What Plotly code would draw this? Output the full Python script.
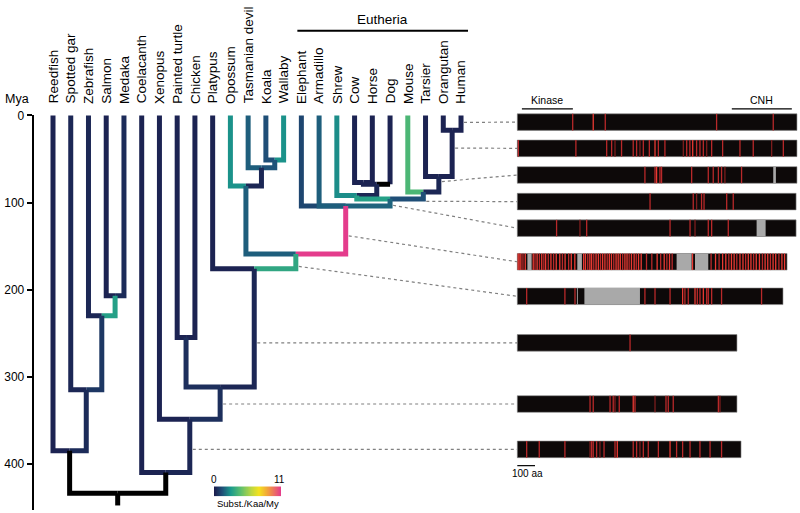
import plotly.graph_objects as go
from plotly.colors import sample_colorscale

# ------------------------------------------------------------------ data
leaves = ["Reedfish", "Spotted gar", "Zebrafish", "Salmon", "Medaka", "Coelacanth",
          "Xenopus", "Painted turtle", "Chicken", "Platypus", "Opossum",
          "Tasmanian devil", "Koala", "Wallaby", "Elephant", "Armadillo", "Shrew",
          "Cow", "Horse", "Dog", "Mouse", "Tarsier", "Orangutan", "Human"]

clade_children = {
    "SM": ["Salmon", "Medaka"],
    "ZSM": ["Zebrafish", "SM"],
    "GZSM": ["Spotted gar", "ZSM"],
    "Actinopterygii": ["Reedfish", "GZSM"],
    "TC": ["Painted turtle", "Chicken"],
    "KW": ["Koala", "Wallaby"],
    "TKW": ["Tasmanian devil", "KW"],
    "Marsupialia": ["Opossum", "TKW"],
    "OH": ["Orangutan", "Human"],
    "Primates": ["Tarsier", "OH"],
    "Euarchontoglires": ["Mouse", "Primates"],
    "CH": ["Cow", "Horse"],
    "CHD": ["CH", "Dog"],
    "Laurasiatheria": ["Shrew", "CHD"],
    "Boreoeutheria": ["Laurasiatheria", "Euarchontoglires"],
    "Eutheria": ["Elephant", "Armadillo", "Boreoeutheria"],
    "Theria": ["Marsupialia", "Eutheria"],
    "Mammalia": ["Platypus", "Theria"],
    "Amniota": ["TC", "Mammalia"],
    "Tetrapoda": ["Xenopus", "Amniota"],
    "Sarcopterygii": ["Coelacanth", "Tetrapoda"],
    "Root": ["Actinopterygii", "Sarcopterygii"],
}

node_age_mya = {
    "SM": 207, "ZSM": 230, "GZSM": 315, "Actinopterygii": 385,
    "TC": 255, "KW": 51, "TKW": 60, "Marsupialia": 81,
    "OH": 17, "Primates": 70, "Euarchontoglires": 88,
    "CH": 77, "CHD": 79, "Laurasiatheria": 92, "Boreoeutheria": 96,
    "Eutheria": 104, "Theria": 159, "Mammalia": 176, "Amniota": 312,
    "Tetrapoda": 349, "Sarcopterygii": 410, "Root": 434,
}
root_stub_mya = 14

# substitutions per Kaa per My on the branch leading to each node (None = not estimated)
branch_rate = {
    "Reedfish": 0.2, "Spotted gar": 0.3, "Zebrafish": 0.3, "Salmon": 0.2, "Medaka": 0.4,
    "SM": 3.0, "ZSM": 0.7, "GZSM": 0.4, "Actinopterygii": None,
    "Coelacanth": 0.2, "Xenopus": 0.2, "Painted turtle": 0.2, "Chicken": 0.2,
    "TC": 0.5, "Amniota": 0.5, "Platypus": 0.2, "Mammalia": 0.3, "Theria": 3.3,
    "Marsupialia": 1.6, "Opossum": 2.6, "TKW": 0.3, "Tasmanian devil": 1.6,
    "KW": 1.4, "Koala": 1.3, "Wallaby": 2.6, "Eutheria": 11.0,
    "Elephant": 1.1, "Armadillo": 1.6, "Boreoeutheria": 1.7, "Laurasiatheria": 3.0,
    "Shrew": 2.5, "CHD": 0.3, "CH": 0.2, "Cow": 0.2, "Horse": 0.2, "Dog": 0.2,
    "Mouse": 4.0, "Euarchontoglires": 1.3, "Primates": 0.3, "Tarsier": 0.2,
    "OH": 0.2, "Orangutan": 0.2, "Human": 0.2, "Tetrapoda": 0.3,
    "Sarcopterygii": None, "Root": None,
}
horizontal_rate_override = {"Dog": None}
rate_max = 11

clade_labels = [("Eutheria", "Elephant", "Human")]

# ancestral sequences along the human lineage (branch -> sequence row)
row_branches = ["Human", "OH", "Primates", "Euarchontoglires", "Boreoeutheria",
                "Eutheria", "Theria", "Mammalia", "Amniota", "Tetrapoda"]
row_length_aa = [1580, 1580, 1580, 1575, 1575, 1524, 1501, 1241, 1241, 1264]
# substitution sites: (position aa, intensity 1..3)
row_sites = [
    [(313, 2), (429, 3), (497, 2), (1126, 2), (1446, 2)],
    [(6, 2), (331, 2), (505, 2), (533, 2), (552, 1), (589, 2), (655, 2), (674, 2), (693, 1),
     (712, 2), (746, 2), (778, 3), (797, 2), (834, 2), (938, 1), (957, 2), (975, 2), (991, 3),
     (1013, 2), (1032, 2), (1051, 2), (1070, 1), (1098, 2), (1160, 2), (1258, 2), (1333, 2),
     (1437, 1), (1503, 2)],
    [(721, 2), (778, 2), (787, 3), (806, 2), (815, 2), (985, 2), (1079, 2), (1107, 2),
     (1136, 2), (1154, 2), (1173, 1), (1267, 2)],
    [(750, 2), (994, 2), (1013, 1), (1041, 2), (1055, 2), (1183, 2), (1220, 2)],
    [(222, 2), (354, 1), (392, 2), (863, 2), (976, 2), (1004, 1), (1079, 2), (1098, 2),
     (1192, 2)],
    [(5, 3), (12, 2), (20, 3), (32, 2), (45, 3), (90, 3), (100, 2), (112, 3), (125, 2),
     (138, 3), (150, 2), (160, 3), (175, 2), (190, 3), (205, 2), (220, 3), (240, 3),
     (255, 2), (270, 3), (290, 2), (305, 3), (325, 3), (375, 3), (385, 3), (398, 2),
     (410, 3), (420, 3), (432, 2), (445, 3), (458, 3), (470, 2), (482, 3), (495, 3),
     (508, 2), (520, 3), (532, 3), (545, 2), (558, 3), (570, 3), (582, 3), (595, 2),
     (608, 3), (620, 3), (632, 2), (645, 3), (660, 3), (672, 2), (685, 3), (700, 3),
     (730, 2), (760, 2), (790, 3), (810, 2), (830, 3), (845, 2), (860, 3), (875, 2),
     (990, 3), (1095, 2), (1120, 3), (1140, 2), (1160, 3), (1178, 3), (1195, 2),
     (1210, 3), (1225, 3), (1240, 2), (1258, 3), (1275, 3), (1290, 2), (1305, 3),
     (1320, 3), (1335, 2), (1350, 3), (1368, 3), (1385, 2), (1400, 3), (1415, 3),
     (1430, 2), (1445, 3), (1460, 3), (1478, 2), (1495, 3), (1510, 3)],
    [(53, 2), (269, 2), (326, 2), (721, 2), (778, 2), (863, 2), (934, 3), (947, 2),
     (966, 2), (1004, 3), (1017, 2), (1032, 2), (1051, 3), (1070, 2), (1079, 2),
     (1098, 2), (1154, 2), (1380, 2)],
    [(637, 2)],
    [(411, 2), (429, 2), (524, 2), (542, 2), (552, 1), (576, 2), (655, 3), (665, 2),
     (778, 1), (840, 2), (853, 2), (881, 2), (1136, 2), (1145, 1)],
    [(53, 2), (124, 2), (269, 2), (411, 1), (420, 2), (429, 2), (448, 2), (467, 1),
     (490, 2), (552, 2), (565, 3), (655, 2), (674, 2), (693, 1), (712, 2), (740, 2),
     (797, 2), (863, 3), (900, 2), (934, 2), (976, 2), (1032, 2), (1089, 2), (1154, 2)],
]
# alignment gaps: (start aa, end aa)
row_gaps = [
    [], [], [(1446, 1461)], [], [(1352, 1403)],
    [(57, 81), (339, 365), (900, 985), (1004, 1079)],
    [(337, 342), (379, 693)],
    [], [], [],
]

protein_domains = [("Kinase", 26, 314), ("CNH", 1212, 1551)]
scale_bar_aa = 100

# ------------------------------------------------------------------ layout constants
W, H = 800, 513
TREE_X0_PX, LEAF_STEP_PX = 53.0, 17.74
Y0_PX, PX_PER_MY = 110.0, 0.8825
BAR_X0_PX, PX_PER_AA = 517.3, 0.177
LW = 5
FONT = "Liberation Sans, Arial, Helvetica, sans-serif"

row_center_px = [116.7, 143.3, 170.3, 197.3, 224.2, 258.3, 293.3, 340.5, 402.5, 448.5]
row_half_px = 8.4
connector_start_px_y = [117, 143, 177, 197, 201, 232, 263, 340.5, 402.5, 448.5]

RATE_SCALE = [[0.0, "#1b1b4b"], [0.12, "#1f4f78"], [0.25, "#1b9a8c"], [0.4, "#5cbf6e"],
              [0.55, "#bad643"], [0.67, "#f4e21e"], [0.8, "#f2a33a"], [1.0, "#e43c8c"]]
RED = {1: "#7c1d1d", 2: "#b8292a", 3: "#ea3a33"}


def px_to_tree_x(px):
    return (px - TREE_X0_PX) / LEAF_STEP_PX


def px_to_age(py):
    return (py - Y0_PX) / PX_PER_MY


def px_to_aa(px):
    return (px - BAR_X0_PX) / PX_PER_AA


def aa_to_tree_x(aa):
    return px_to_tree_x(BAR_X0_PX + aa * PX_PER_AA)


def rate_color(r):
    if r is None:
        return "#000000"
    return sample_colorscale(RATE_SCALE, [min(max(r / rate_max, 0), 1)])[0]


# ------------------------------------------------------------------ tree geometry
parent_of = {}
for p, ch in clade_children.items():
    for c in ch:
        parent_of[c] = p

node_x = {name: i for i, name in enumerate(leaves)}
node_age = {name: 0.0 for name in leaves}


def place(n):
    if n in node_x:
        return node_x[n]
    xs = [place(c) for c in clade_children[n]]
    node_x[n] = (min(xs) + max(xs)) / 2
    node_age[n] = node_age_mya[n]
    return node_x[n]


place("Root")

fig = go.Figure()

for n, p in parent_of.items():
    xc, yc = node_x[n], node_age[n]
    xp, yp = node_x[p], node_age[p]
    col_v = rate_color(branch_rate[n])
    col_h = rate_color(horizontal_rate_override[n]) if n in horizontal_rate_override else col_v
    if col_h == col_v:
        fig.add_trace(go.Scatter(x=[xc, xc, xp], y=[yc, yp, yp], mode="lines",
                                 line=dict(color=col_v, width=LW), hoverinfo="skip",
                                 showlegend=False))
    else:
        fig.add_trace(go.Scatter(x=[xc, xc], y=[yc, yp], mode="lines",
                                 line=dict(color=col_v, width=LW), hoverinfo="skip",
                                 showlegend=False))
        fig.add_trace(go.Scatter(x=[xc, xp], y=[yp, yp], mode="lines",
                                 line=dict(color=col_h, width=LW), hoverinfo="skip",
                                 showlegend=False))

# root stub
fig.add_trace(go.Scatter(x=[node_x["Root"], node_x["Root"]],
                         y=[node_age["Root"], node_age["Root"] + root_stub_mya],
                         mode="lines", line=dict(color=rate_color(branch_rate["Root"]), width=LW),
                         hoverinfo="skip", showlegend=False))

# leaf labels
annotations = []
for i, name in enumerate(leaves):
    annotations.append(dict(x=i, y=px_to_age(100), xref="x", yref="y", text=name,
                            textangle=-90, xanchor="center", yanchor="bottom",
                            showarrow=False, font=dict(family=FONT, size=13.5, color="#000")))

shapes = []
# clade bracket
for label, first, last in clade_labels:
    x0 = node_x[first] - 4 / LEAF_STEP_PX
    x1 = node_x[last] + 7 / LEAF_STEP_PX
    shapes.append(dict(type="line", xref="x", yref="y", x0=x0, x1=x1,
                       y0=px_to_age(24), y1=px_to_age(24), line=dict(color="#000", width=2)))
    annotations.append(dict(x=(x0 + x1) / 2, y=px_to_age(13), xref="x", yref="y", text=label,
                            showarrow=False, xanchor="center", yanchor="middle",
                            font=dict(family=FONT, size=13.5, color="#000")))

# ------------------------------------------------------------------ sequence bars
for k, br in enumerate(row_branches):
    yc = px_to_age(row_center_px[k])
    y0 = px_to_age(row_center_px[k] - row_half_px)
    y1 = px_to_age(row_center_px[k] + row_half_px)
    shapes.append(dict(type="rect", xref="x2", yref="y", x0=0, x1=row_length_aa[k],
                       y0=y0, y1=y1, fillcolor="#0d0909",
                       line=dict(color="#8a8a8a", width=0.6), layer="below"))
    for g0, g1 in row_gaps[k]:
        shapes.append(dict(type="rect", xref="x2", yref="y", x0=g0, x1=g1, y0=y0, y1=y1,
                           fillcolor="#a9a9a9", line=dict(width=0), layer="below"))
    for lvl in (1, 2, 3):
        xs, ys = [], []
        for pos, inten in row_sites[k]:
            if inten == lvl:
                xs += [pos, pos, None]
                ys += [y0, y1, None]
        if xs:
            fig.add_trace(go.Scatter(x=xs, y=ys, xaxis="x2", yaxis="y", mode="lines",
                                     line=dict(color=RED[lvl], width=1.3), hoverinfo="skip",
                                     showlegend=False))
    # connector from the branch to the sequence
    xs_tree = node_x[br] + 3 / LEAF_STEP_PX
    fig.add_trace(go.Scatter(x=[xs_tree, aa_to_tree_x(-1)],
                             y=[px_to_age(connector_start_px_y[k]), yc],
                             mode="lines", line=dict(color="#808080", width=1.2, dash="3px,3px"),
                             hoverinfo="skip", showlegend=False))

# domains
for name, a0, a1 in protein_domains:
    shapes.append(dict(type="line", xref="x2", yref="y", x0=a0, x1=a1,
                       y0=px_to_age(103.3), y1=px_to_age(103.3),
                       line=dict(color="#000", width=1.2)))
    annotations.append(dict(x=(a0 + a1) / 2, y=px_to_age(94), xref="x2", yref="y", text=name,
                            showarrow=False, font=dict(family=FONT, size=10.5, color="#000")))

# scale bar
shapes.append(dict(type="line", xref="x2", yref="y", x0=0, x1=scale_bar_aa,
                   y0=px_to_age(465), y1=px_to_age(465), line=dict(color="#000", width=1.2)))
annotations.append(dict(x=scale_bar_aa * 0.55, y=px_to_age(473), xref="x2", yref="y",
                        text=f"{scale_bar_aa} aa", showarrow=False,
                        font=dict(family=FONT, size=10, color="#000")))

# ------------------------------------------------------------------ colour bar
grad = [i * rate_max / 199 for i in range(200)]
fig.add_trace(go.Heatmap(z=[grad], x=grad, y=[0], colorscale=RATE_SCALE, zmin=0, zmax=rate_max,
                         showscale=False, xaxis="x3", yaxis="y3", hoverinfo="skip"))
annotations += [
    dict(x=214 / W, y=1 - 479 / H, xref="paper", yref="paper", text="0", showarrow=False,
         xanchor="center", yanchor="middle", font=dict(family=FONT, size=10, color="#000")),
    dict(x=279 / W, y=1 - 479 / H, xref="paper", yref="paper", text=str(rate_max),
         showarrow=False, xanchor="center", yanchor="middle",
         font=dict(family=FONT, size=10, color="#000")),
    dict(x=248 / W, y=1 - 497 / H, xref="paper", yref="paper", text="Subst./Kaa/My",
         showarrow=False, xanchor="center", yanchor="top", borderpad=0,
         font=dict(family=FONT, size=9.5, color="#000")),
    dict(x=17 / W, y=1 - 93 / H, xref="paper", yref="paper", text="Mya", showarrow=False,
         xanchor="center", yanchor="middle", font=dict(family=FONT, size=12.5, color="#000")),
]

# dummy trace for the visible time axis
fig.add_trace(go.Scatter(x=[None], y=[None], xaxis="x", yaxis="y2", showlegend=False,
                         hoverinfo="skip"))

fig.update_layout(
    width=W, height=H, margin=dict(l=0, r=0, t=0, b=0),
    paper_bgcolor="white", plot_bgcolor="rgba(0,0,0,0)", showlegend=False,
    xaxis=dict(domain=[0, 1], range=[px_to_tree_x(0), px_to_tree_x(W)], visible=False,
               anchor="y", fixedrange=True),
    yaxis=dict(domain=[0, 1], range=[px_to_age(H), px_to_age(0)], visible=False,
               anchor="x", fixedrange=True),
    xaxis2=dict(domain=[0, 1], range=[px_to_aa(0), px_to_aa(W)], visible=False,
                overlaying="x", anchor="y", fixedrange=True),
    yaxis2=dict(domain=[1 - 510 / H, 1 - Y0_PX / H], range=[px_to_age(510), 0],
                anchor="free", position=32.5 / W, side="left", showline=True,
                linecolor="#000", linewidth=1.6, ticks="outside", ticklen=5, tickwidth=1.6,
                tickcolor="#000", tickvals=[0, 100, 200, 300, 400], showgrid=False,
                zeroline=False, tickfont=dict(family=FONT, size=12, color="#000"),
                fixedrange=True),
    xaxis3=dict(domain=[214 / W, 281 / W], anchor="y3", visible=False, fixedrange=True),
    yaxis3=dict(domain=[1 - 496 / H, 1 - 486 / H], anchor="x3", visible=False,
                fixedrange=True),
    shapes=shapes, annotations=annotations,
)

fig.write_html("out.html",
               config={"displayModeBar": False},
               post_script="document.body.style.margin='0px';"
                           "document.body.style.overflow='hidden';")
